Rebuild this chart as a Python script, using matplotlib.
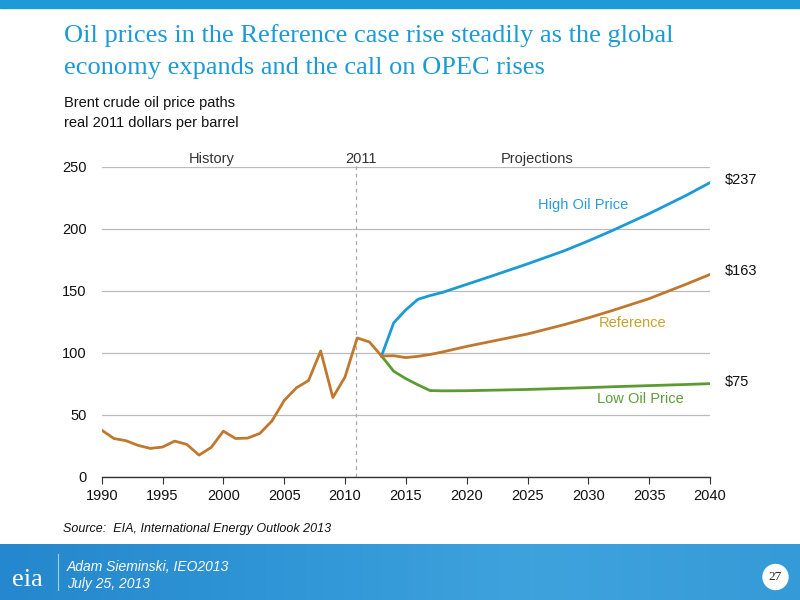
import numpy as np
import matplotlib
matplotlib.use("Agg")
import matplotlib.pyplot as plt
from matplotlib.patches import Rectangle, Ellipse
from matplotlib.colors import LinearSegmentedColormap

# ---- data ----
hist_years = list(range(1990, 2014))
hist_price = [37.5, 30.8, 29.0, 25.2, 22.8, 23.9, 28.7, 26.0, 17.4, 23.6,
              36.7, 30.8, 31.1, 34.9, 45.0, 61.4, 71.6, 77.5, 101.3, 63.8,
              80.4, 111.8, 108.6, 97.3]
proj_years = [2013, 2014, 2015, 2016, 2017, 2018, 2020, 2022, 2025, 2028,
              2030, 2032, 2035, 2038, 2040]
high_price = [97.3, 124.0, 134.5, 143.0, 146.0, 148.5, 155.0, 161.5, 171.5,
              182.0, 190.0, 198.5, 212.0, 226.5, 237.0]
ref_price = [97.3, 97.5, 96.0, 97.0, 98.5, 100.5, 105.0, 109.0, 115.0,
             122.5, 128.0, 134.0, 143.5, 155.0, 163.0]
low_price = [97.3, 85.0, 79.0, 74.0, 69.4, 69.2, 69.3, 69.7, 70.3, 71.2,
             71.8, 72.5, 73.4, 74.3, 75.0]
end_labels = ["$237", "$163", "$75"]
x_ticks = list(range(1990, 2041, 5))
y_ticks = [0, 50, 100, 150, 200, 250]

BLUE = "#1A9AD6"
ORANGE = "#C0782E"
GREEN = "#5C9B32"

plt.rcParams['font.family'] = ['Liberation Sans', 'DejaVu Sans']

fig = plt.figure(figsize=(8, 6), dpi=100)
W, H = 800, 600

def fx(px):
    return px / W

def fy(py):
    return 1 - py / H

# top band
fig.patches.append(Rectangle((0, fy(8)), 1, 8 / H, transform=fig.transFigure,
                             color="#1E9AD6", zorder=0))

# footer band with gradient
fax = fig.add_axes([0, 0, 1, 56 / H])
grad = np.linspace(0, 1, 256).reshape(1, -1)
cmap = LinearSegmentedColormap.from_list("f", ["#2587CD", "#2F95D6", "#3EA3DD", "#359BD8"])
fax.imshow(grad, aspect="auto", cmap=cmap, extent=[0, 1, 0, 1])
fax.set_xlim(0, 1)
fax.set_ylim(0, 1)
fax.axis("off")
fax.plot([58 / W, 58 / W], [0.18, 0.82], color="#9FD0F0", lw=0.8)
fax.text(27 / W, 0.36, "eia", color="white", fontsize=19, family="Liberation Serif",
         ha="center", va="center")

# page-number circle
fig.patches.append(Ellipse((fx(775.5), fy(577)), 25 / W, 25 / H, transform=fig.transFigure,
                           color="white", zorder=5))

fig.text(fx(67), fy(567), "Adam Sieminski, IEO2013", color="white", fontsize=10,
         style="italic", ha="left", va="center")
fig.text(fx(67), fy(584), "July 25, 2013", color="white", fontsize=10,
         style="italic", ha="left", va="center")
fig.text(fx(775.5), fy(577), "27", color="#222222", fontsize=9.5,
         family="Liberation Serif", ha="center", va="center", zorder=6)

# title
fig.text(fx(64), fy(36), "Oil prices in the Reference case rise steadily as the global",
         color=BLUE, fontsize=19, family="Liberation Serif", ha="left", va="center")
fig.text(fx(64), fy(68), "economy expands and the call on OPEC rises",
         color=BLUE, fontsize=19, family="Liberation Serif", ha="left", va="center")
fig.text(fx(64), fy(103), "Brent crude oil price paths", color="#111111",
         fontsize=10.5, ha="left", va="center")
fig.text(fx(64), fy(123), "real 2011 dollars per barrel", color="#111111",
         fontsize=10.5, ha="left", va="center")
fig.text(fx(63), fy(529), "Source:  EIA, International Energy Outlook 2013",
         color="#111111", fontsize=9, style="italic", ha="left", va="center")

# main axes
ax = fig.add_axes([fx(101.7), fy(476.7), (710 - 101.7) / W, (476.7 - 166.5) / H])
ax.set_xlim(1990, 2040)
ax.set_ylim(0, 250)
for s in ["left", "right", "top"]:
    ax.spines[s].set_visible(False)
ax.spines["bottom"].set_color("#333333")
ax.spines["bottom"].set_linewidth(1.0)
ax.set_xticks(x_ticks)
ax.set_yticks(y_ticks)
ax.tick_params(axis="x", direction="out", length=5, color="#333333", labelsize=10.5,
               pad=4, labelcolor="#111111")
ax.tick_params(axis="y", length=0, labelsize=10.5, pad=11, labelcolor="#111111")
ax.yaxis.grid(True, color="#BBBBBB", lw=0.9)
ax.set_axisbelow(True)
ax.patch.set_alpha(0)

ax.axvline(2010.9, color="#AAAAAA", lw=0.9, ls=(0, (3, 3)), ymax=1.01, clip_on=False)

ax.plot(proj_years, high_price, color=BLUE, lw=2.0, solid_joinstyle="round")
ax.plot(proj_years, low_price, color=GREEN, lw=2.0, solid_joinstyle="round")
ax.plot(proj_years, ref_price, color=ORANGE, lw=2.0, solid_joinstyle="round")
ax.plot(hist_years, hist_price, color=ORANGE, lw=2.0, solid_joinstyle="round")

ax.text(1999.0, 256, "History", fontsize=10.5, color="#333333", ha="center", va="center",
        clip_on=False)
ax.text(2011.3, 256, "2011", fontsize=10.5, color="#333333", ha="center", va="center",
        clip_on=False)
ax.text(2025.8, 256, "Projections", fontsize=10.5, color="#333333", ha="center",
        va="center", clip_on=False)

ax.text(2029.6, 219, "High Oil Price", fontsize=10.5, color="#2A9BD8", ha="center",
        va="center")
ax.text(2033.6, 124, "Reference", fontsize=10.5, color="#C9A227", ha="center", va="center")
ax.text(2034.3, 63, "Low Oil Price", fontsize=10.5, color="#5E9D3A", ha="center",
        va="center")

for val, lab in zip([high_price[-1], ref_price[-1], low_price[-1]], end_labels):
    ax.text(2041.2, val + 2.5 if lab != "$75" else val + 1.5, lab, fontsize=10.5,
            color="#111111", ha="left", va="center", clip_on=False)

fig.savefig("out.png", dpi=100)
